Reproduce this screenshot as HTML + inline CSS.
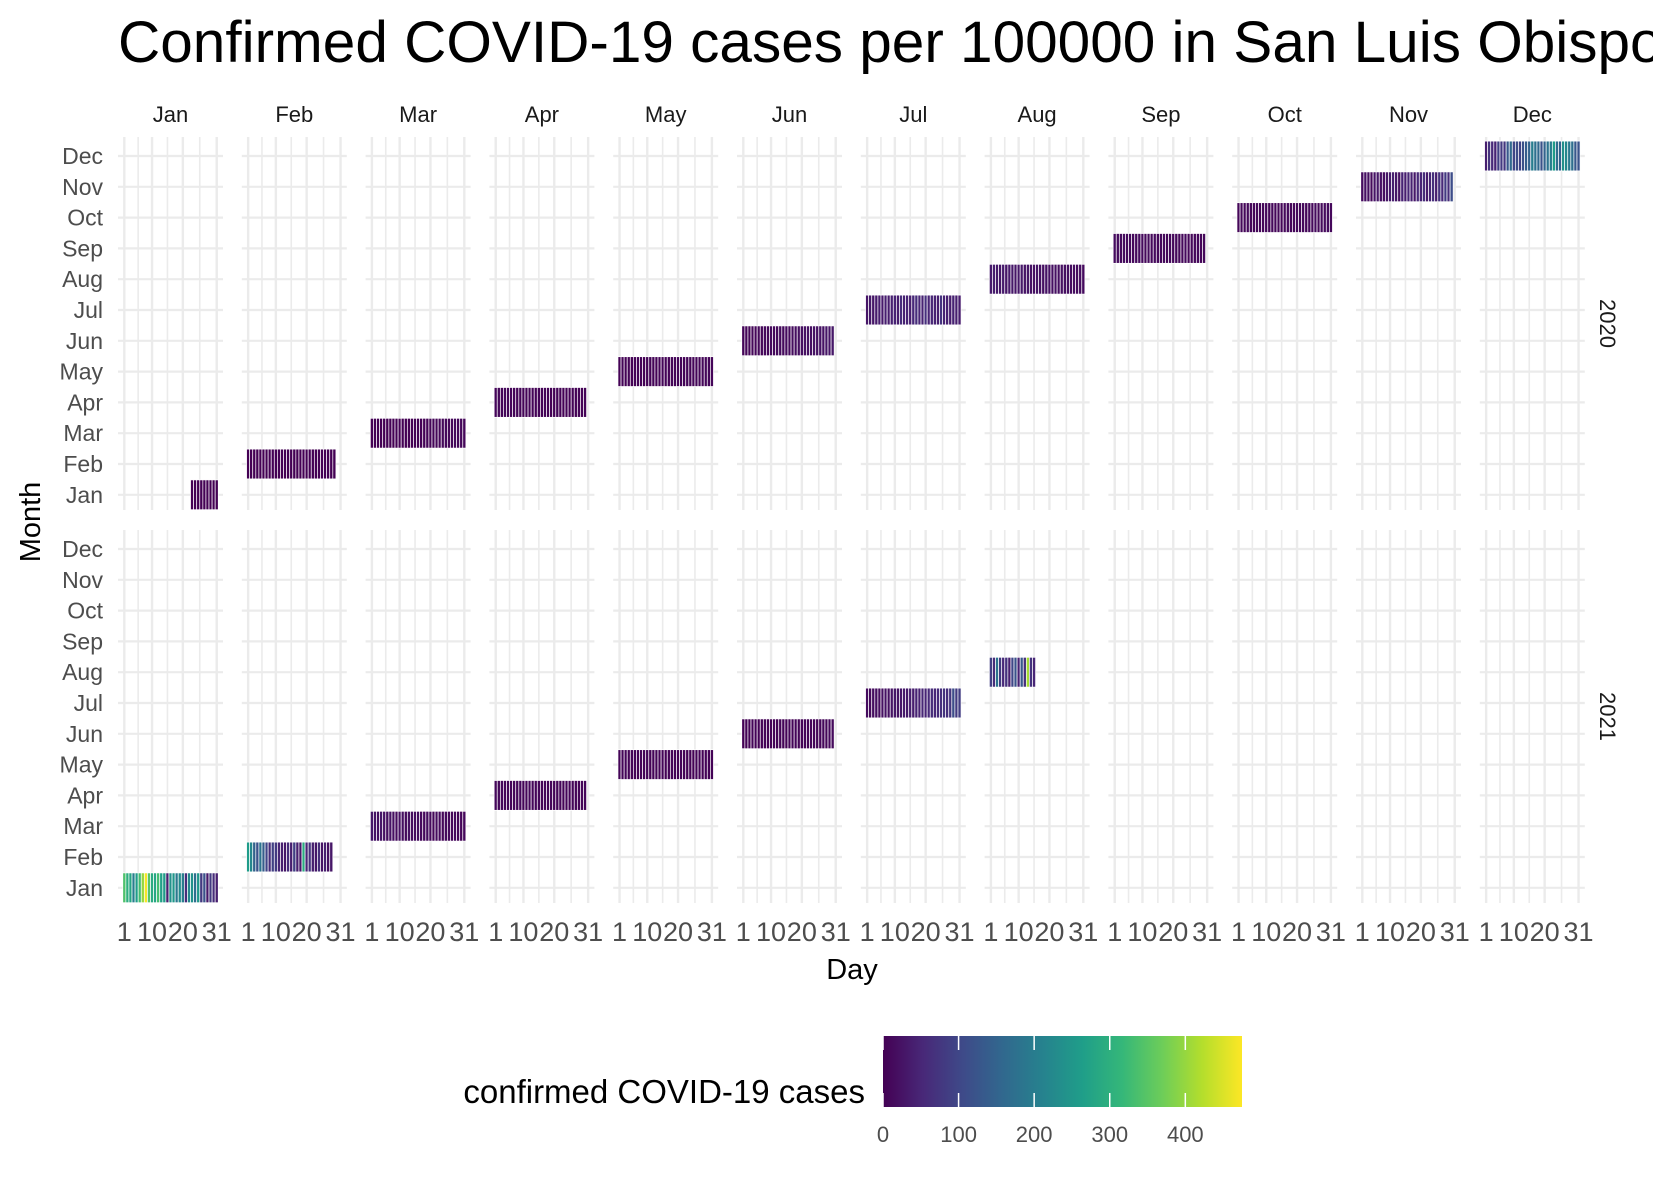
<!DOCTYPE html>
<html><head><meta charset="utf-8"><style>
html,body{margin:0;padding:0;background:#fff;}
svg{display:block;font-family:"Liberation Sans",Arial,sans-serif;}
</style></head><body>
<svg id="chart" width="1653" height="1181" viewBox="0 0 1653 1181" xmlns="http://www.w3.org/2000/svg">
<text x="118" y="62" font-size="58.5" fill="#000">Confirmed COVID-19 cases per 100000 in San Luis Obispo County</text>
<g id="grid"></g>
<g id="tiles"></g>
<g id="labels"></g>
<text x="852" y="979" font-size="29" text-anchor="middle" fill="#000">Day</text>
<text transform="translate(40,522) rotate(-90)" font-size="29" text-anchor="middle" fill="#000">Month</text>
<g id="legend"></g>
</svg>
<script>
const monthNames = ["Jan","Feb","Mar","Apr","May","Jun","Jul","Aug","Sep","Oct","Nov","Dec"];
const years = ["2020","2021"];
const xTicks = [1,10,20,31];
const xMinor = [5.5,15,25.5];
const legendTicks = [0,100,200,300,400];
const legendMax = 475;
const start2020 = 23;
const v2020 = [
[0,0,0,0,0,0,0,0,0],
[0,0,0,0,0,0,0,0,0,0,0,0,0,0,0,0,0,0,0,0,0,0,0,0,0,0,0,0,0],
[0,0,0,0,0,0,0,0,0,0,0,0,0,0,1,2,1,3,4,5,6,8,7,9,10,8,9,12,10,9,8],
[7,8,6,9,8,7,6,5,6,5,4,5,4,3,4,3,4,3,2,3,4,3,2,3,2,3,2,3,2,3],
[2,3,2,3,2,3,4,3,2,3,4,5,3,4,5,4,3,5,4,6,5,4,6,5,7,6,5,7,8,6,7],
[6,7,5,8,7,9,8,10,9,12,10,11,13,12,14,12,15,16,18,17,20,22,19,24,22,25,23,28,26,30],
[28,32,30,35,38,33,40,36,42,45,38,60,44,48,40,55,62,50,45,65,48,52,44,40,70,46,42,38,44,40,36],
[34,38,32,30,35,28,33,30,26,29,31,25,28,24,22,27,23,20,25,22,19,21,18,20,17,19,16,18,15,17,14],
[14,13,12,15,11,13,10,12,14,11,9,12,10,11,9,10,12,8,11,9,10,8,9,11,7,9,8,10,7,9],
[8,9,7,10,8,6,9,7,8,10,6,9,7,8,6,9,11,7,8,10,9,12,8,11,10,13,9,12,11,14,10],
[15,20,18,12,25,30,22,18,28,35,40,30,20,45,38,50,42,30,55,48,60,35,50,65,40,70,55,80,60,110],
[40,70,55,45,90,80,75,130,160,100,110,95,120,140,150,200,175,160,120,150,180,200,260,170,150,240,220,190,170,130,120]
];
const v2021 = [
[340,300,280,200,260,330,400,470,350,290,280,330,270,260,40,240,250,190,230,200,60,220,240,170,250,80,120,30,80,60,40],
[260,220,150,120,180,140,100,60,90,80,50,40,30,60,40,90,40,30,290,50,70,40,30,60,25,40,20,30],
[30,25,20,28,22,18,25,20,15,22,18,12,20,16,14,18,12,10,15,12,9,14,11,8,12,10,9,11,8,7,10],
[9,8,10,7,9,6,8,7,10,6,8,9,7,6,8,5,7,6,8,5,6,7,5,6,4,6,5,4,5,6],
[5,4,6,3,5,4,3,5,4,6,3,4,5,3,4,2,3,4,3,2,4,3,2,3,2,4,3,2,3,2,3],
[2,3,2,4,3,2,3,4,2,3,4,3,5,4,3,5,4,6,5,4,6,5,7,6,8,7,9,8,10,12],
[14,12,16,18,15,20,22,19,25,28,24,30,35,32,40,38,45,42,50,48,55,60,52,58,65,70,62,75,110,80,85],
[90,60,180,80,55,70,40,100,120,45,130,65,410,70,50]
];

const NS = "http://www.w3.org/2000/svg";
function mk(tag, attrs, parent){const e=document.createElementNS(NS,tag);for(const k in attrs)e.setAttribute(k,attrs[k]);parent.appendChild(e);return e;}

const vir = [[68,1,84],[72,40,120],[62,74,137],[49,104,142],[38,130,142],[31,158,137],[53,183,121],[109,205,89],[180,222,44],[253,231,37]];
function color(v){let t=Math.max(0,Math.min(1,v/legendMax))*(vir.length-1);const i=Math.min(Math.floor(t),vir.length-2);const f=t-i;const a=vir[i],b=vir[i+1];return `rgb(${Math.round(a[0]+(b[0]-a[0])*f)},${Math.round(a[1]+(b[1]-a[1])*f)},${Math.round(a[2]+(b[2]-a[2])*f)})`;}

const P0 = 118, PITCH = 123.8, PW = 105;
const panelTop = [137,530], PH = 373;
const ROW = 30.8;
function xPos(col, d){return P0 + col*PITCH + (d - 0.5 + 1.55)*3.08;}
function yPos(row, m){return panelTop[row] + 19 + (11 - m)*ROW;}

const grid = document.getElementById('grid'), tiles = document.getElementById('tiles'), labels = document.getElementById('labels');

for(let r=0;r<2;r++){
  for(let c=0;c<12;c++){
    const x0 = P0 + c*PITCH;
    const pg = mk('g',{},grid);
    
    
    for(let m=0;m<12;m++){
      const y=yPos(r,m);
      const l = mk('line',{x1:x0,x2:x0+PW,y1:y,y2:y,stroke:'#ebebeb','stroke-width':2.2},pg);
      
      
    }
    xMinor.forEach(d=>{const x=xPos(c,d);const l=mk('line',{x1:x,x2:x,y1:panelTop[r],y2:panelTop[r]+PH,stroke:'#ebebeb','stroke-width':1.6},pg);
      
      });
    xTicks.forEach(d=>{const x=xPos(c,d);const l=mk('line',{x1:x,x2:x,y1:panelTop[r],y2:panelTop[r]+PH,stroke:'#ebebeb','stroke-width':2.4},pg);
      
      });
  }
}

function drawYear(row, data, firstDay){
  data.forEach((arr, m)=>{
    const sd = (m===0 && firstDay) ? firstDay : 1;
    arr.forEach((v,i)=>{
      const d = sd + i;
      const x = xPos(m, d-0.5), y = yPos(row, m) - ROW/2 + 0.5;
      const t = mk('rect',{x:x,y:y,width:3.08,height:ROW-1,fill:color(v),stroke:'#ffffff','stroke-width':0.7},tiles);
      
      
    });
  });
}
drawYear(0, v2020, start2020);
drawYear(1, v2021, 1);

monthNames.forEach((n,c)=>{
  const t = mk('text',{x:P0+c*PITCH+PW/2,y:122,'font-size':22,'text-anchor':'middle',fill:'#1a1a1a'},labels);
  t.textContent=n;
  
  
  xTicks.forEach(d=>{
    const tl = mk('text',{x:xPos(c,d),y:941,'font-size':27,'text-anchor':'middle',fill:'#4d4d4d'},labels);
    tl.textContent=d;
    
    
  });
});
years.forEach((yr,r)=>{
  const cy = panelTop[r]+PH/2;
  const t = mk('text',{transform:`translate(1600,${cy}) rotate(90)`,'font-size':22,'text-anchor':'middle',fill:'#1a1a1a'},labels);
  t.textContent=yr;
  
  
  monthNames.forEach((n,m)=>{
    const tl = mk('text',{x:103,y:yPos(r,m)+8,'font-size':23,'text-anchor':'end',fill:'#4d4d4d'},labels);
    tl.textContent=n;
    
    
  });
});

const lg = document.getElementById('legend');
const LX=883, LY=1036, LW=359, LH=71;
const defs = mk('defs',{},lg);
const grad = mk('linearGradient',{id:'vg',x1:0,x2:1,y1:0,y2:0},defs);
vir.forEach((c,i)=>mk('stop',{offset:(i/(vir.length-1)),'stop-color':`rgb(${c[0]},${c[1]},${c[2]})`},grad));
const bar = mk('rect',{x:LX,y:LY,width:LW,height:LH,fill:'url(#vg)'},lg);


function lx(v){return LX + v/legendMax*LW;}
legendTicks.forEach(v=>{
  const x=lx(v);
  mk('line',{x1:x,x2:x,y1:LY,y2:LY+14,stroke:'#fff','stroke-width':1.5},lg);
  mk('line',{x1:x,x2:x,y1:LY+LH-14,y2:LY+LH,stroke:'#fff','stroke-width':1.5},lg);
  const t = mk('text',{x:x,y:1142,'font-size':22,'text-anchor':'middle',fill:'#4d4d4d'},lg);
  t.textContent=v;
  
  
});
const lt = mk('text',{x:865,y:1103,'font-size':33,'text-anchor':'end',fill:'#000'},lg);
lt.textContent='confirmed COVID-19 cases';


</script>
</body></html>
